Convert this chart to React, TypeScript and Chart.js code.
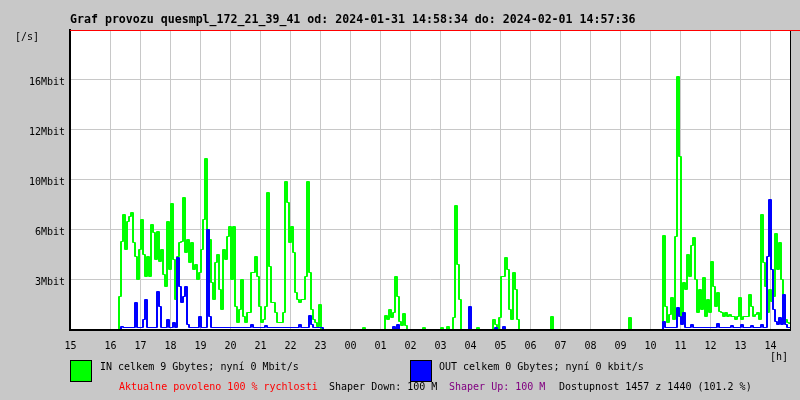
import React, { useEffect, useRef } from "react";
import { Chart, registerables } from "chart.js";

Chart.register(...registerables);

const TITLE = "Graf provozu quesmpl_172_21_39_41 od: 2024-01-31 14:58:34 do: 2024-02-01 14:57:36";

// x axis: hour labels (first one sits on the left edge of the plot)
const hourLabels = ["15", "16", "17", "18", "19", "20", "21", "22", "23", "00", "01", "02", "03", "04", "05", "06", "07", "08", "09", "10", "11", "12", "13", "14"];
// y axis: labels at each grid step (0..6 steps)
const yTickLabels = ["", "3Mbit", "6Mbit", "10Mbit", "12Mbit", "16Mbit", ""];

const START_HOUR = 14 + 40 / 60; // left edge of the plot
const SAMPLE_HOURS = 4 / 60; // one sample every 4 minutes
const PX_HOURS = 1 / 30; // one pixel on the time axis
const HALF_PX_UNITS = 0.01; // half a pixel on the value axis

// IN traffic (in axis grid steps), one row per hour starting at the left edge
const inValues = [
  0, 0, 0, 0, 0, 0, 0, 0, 0, 0, 0, 0, 0, 0, 0,
  0, 0, 0, 0, 0, 0, 0, 0, 0, 0.66, 1.76, 2.3, 1.6, 2.16, 2.26,
  2.34, 1.74, 1.46, 1.0, 1.6, 2.2, 1.5, 1.06, 1.46, 1.06, 2.1, 1.94, 1.4, 1.96, 1.36,
  1.6, 1.1, 0.86, 2.16, 1.2, 2.52, 1.4, 0.6, 1.46, 1.74, 1.76, 2.64, 1.54, 1.8, 1.34,
  1.74, 1.2, 1.3, 1.0, 1.14, 1.6, 2.2, 3.42, 2.0, 1.8, 0.94, 0.6, 1.34, 1.5, 0.8,
  0.4, 1.6, 1.4, 1.86, 2.06, 1.0, 2.06, 0.46, 0.14, 0.4, 1.0, 0.26, 0.14, 0.34, 0.34,
  1.14, 1.14, 1.46, 1.06, 0.46, 0.14, 0.2, 0.46, 2.74, 1.26, 0.54, 0.54, 0.34, 0.14, 0.14,
  0.14, 0.34, 2.96, 2.54, 1.74, 2.06, 1.54, 0.74, 0.6, 0.54, 0.6, 0.6, 1.06, 2.96, 1.14,
  0.4, 0.2, 0.14, 0.06, 0.5, 0, 0, 0, 0, 0, 0, 0, 0, 0, 0,
  0, 0, 0, 0, 0, 0, 0, 0, 0, 0, 0, 0.04, 0, 0, 0,
  0, 0, 0, 0, 0, 0, 0, 0.28, 0.2, 0.4, 0.24, 0.34, 1.06, 0.66, 0.16,
  0.08, 0.32, 0.08, 0, 0, 0, 0, 0, 0, 0, 0, 0.04, 0, 0, 0,
  0, 0, 0, 0, 0, 0.04, 0, 0, 0.06, 0, 0, 0.24, 2.48, 1.3, 0.6,
  0, 0, 0, 0, 0, 0, 0, 0, 0.04, 0, 0, 0, 0, 0, 0,
  0, 0.2, 0.1, 0, 0.24, 1.06, 1.06, 1.44, 1.2, 0.4, 0.2, 1.14, 0.8, 0.2, 0,
  0, 0, 0, 0, 0, 0, 0, 0, 0, 0, 0, 0, 0, 0, 0,
  0.26, 0, 0, 0, 0, 0, 0, 0, 0, 0, 0, 0, 0, 0, 0,
  0, 0, 0, 0, 0, 0, 0, 0, 0, 0, 0, 0, 0, 0, 0,
  0, 0, 0, 0, 0, 0, 0, 0, 0, 0.24, 0, 0, 0, 0, 0,
  0, 0, 0, 0, 0, 0, 0, 0, 0, 0, 0, 1.88, 0.46, 0.14, 0.3,
  0.64, 0.2, 1.86, 5.06, 3.46, 0.2, 0.94, 0.8, 1.5, 1.06, 1.68, 1.84, 1.0, 0.34, 0.8,
  0.4, 1.04, 0.26, 0.6, 0.34, 1.36, 0.86, 0.46, 0.74, 0.36, 0.34, 0.26, 0.34, 0.26, 0.3,
  0.26, 0.26, 0.2, 0.26, 0.64, 0.2, 0.26, 0.26, 0.26, 0.7, 0.46, 0.26, 0.3, 0.34, 0.2,
  2.3, 1.34, 0.86, 0.34, 0.8, 0.56, 0.66, 1.92, 1.2, 1.74, 1.0, 0.46, 0.2, 0.14, 0.12,
];

// OUT traffic (in axis grid steps)
const outValues = [
  0, 0, 0, 0, 0, 0, 0, 0, 0, 0, 0, 0, 0, 0, 0,
  0, 0, 0, 0, 0, 0, 0, 0, 0, 0, 0.06, 0.04, 0.04, 0.04, 0.04,
  0.04, 0.04, 0.54, 0.04, 0.04, 0.04, 0.2, 0.6, 0.04, 0.04, 0.04, 0.04, 0.04, 0.76, 0.46,
  0.04, 0.04, 0.04, 0.2, 0.04, 0.04, 0.14, 0.04, 1.44, 0.86, 0.54, 0.66, 0.86, 0.1, 0.04,
  0.04, 0.04, 0.04, 0.04, 0.26, 0.04, 0.04, 0.04, 2.0, 0.26, 0.04, 0.04, 0.04, 0.04, 0.04,
  0.04, 0.04, 0.04, 0.04, 0.04, 0.04, 0.04, 0.04, 0.04, 0.04, 0.04, 0.04, 0.04, 0.04, 0.04,
  0.1, 0.04, 0.04, 0.04, 0.04, 0.04, 0.04, 0.08, 0.04, 0.04, 0.04, 0.04, 0.04, 0.04, 0.04,
  0.04, 0.04, 0.04, 0.04, 0.04, 0.04, 0.04, 0.04, 0.04, 0.1, 0.04, 0.04, 0.04, 0.04, 0.28,
  0.1, 0.04, 0.04, 0.04, 0.04, 0.04, 0, 0, 0, 0, 0, 0, 0, 0, 0,
  0, 0, 0, 0, 0, 0, 0, 0, 0, 0, 0, 0, 0, 0, 0,
  0, 0, 0, 0, 0, 0, 0, 0, 0, 0, 0, 0.06, 0, 0.1, 0,
  0, 0, 0, 0, 0, 0, 0, 0, 0, 0, 0, 0, 0, 0, 0,
  0, 0, 0, 0, 0, 0, 0, 0, 0, 0, 0, 0, 0, 0, 0,
  0, 0, 0, 0, 0.46, 0, 0, 0, 0, 0, 0, 0, 0, 0, 0,
  0, 0, 0.04, 0, 0, 0, 0.06, 0, 0, 0, 0, 0, 0, 0, 0,
  0, 0, 0, 0, 0, 0, 0, 0, 0, 0, 0, 0, 0, 0, 0,
  0, 0, 0, 0, 0, 0, 0, 0, 0, 0, 0, 0, 0, 0, 0,
  0, 0, 0, 0, 0, 0, 0, 0, 0, 0, 0, 0, 0, 0, 0,
  0, 0, 0, 0, 0, 0, 0, 0, 0, 0, 0, 0, 0, 0, 0,
  0, 0, 0, 0, 0, 0, 0, 0, 0, 0, 0, 0.16, 0.04, 0.04, 0.04,
  0.04, 0.04, 0.04, 0.44, 0.26, 0.1, 0.34, 0.04, 0.04, 0.04, 0.1, 0.04, 0.04, 0.04, 0.04,
  0.04, 0.04, 0.04, 0.04, 0.04, 0.04, 0.04, 0.04, 0.12, 0.04, 0.04, 0.04, 0.04, 0.04, 0.04,
  0.08, 0.04, 0.04, 0.04, 0.04, 0.1, 0.04, 0.04, 0.04, 0.04, 0.08, 0.04, 0.04, 0.04, 0.04,
  0.1, 0.04, 0.04, 1.46, 2.6, 1.2, 0.4, 0.16, 0.1, 0.24, 0.1, 0.7, 0.1, 0.04, 0.04,
];

const IN_TEXT = "IN celkem 9 Gbytes; nyní 0 Mbit/s";
const OUT_TEXT = "OUT celkem 0 Gbytes; nyní 0 kbit/s";
const INFO = [
  { text: "Aktualne povoleno 100 % rychlosti", color: "#ff0000", x: 119 },
  { text: "Shaper Down: 100 M", color: "#000000", x: 329 },
  { text: "Shaper Up: 100 M", color: "#800080", x: 449 },
  { text: "Dostupnost 1457 z 1440 (101.2 %)", color: "#000000", x: 559 },
];

const MONO = "'DejaVu Sans Mono', 'Liberation Mono', monospace";

// shift: extra offset on the time axis (the trace is stroked twice, one pixel apart, like the original 2px-wide steps)
function toPoints(values: number[], shift: number) {
  const pts = values.map((v, i) => ({ x: START_HOUR + i * SAMPLE_HOURS + shift, y: v }));
  pts.push({ x: START_HOUR + values.length * SAMPLE_HOURS + shift, y: values[values.length - 1] });
  return pts;
}

function trace(label: string, values: number[], color: string, shift: number, order: number) {
  return {
    label,
    data: toPoints(values, shift),
    borderColor: color,
    borderWidth: 1,
    pointRadius: 0,
    stepped: "before" as const,
    fill: false,
    order,
  };
}

const decor = {
  id: "decor",
  beforeDraw(chart: any) {
    const { ctx, chartArea: a } = chart;
    ctx.save();
    ctx.fillStyle = "#c8c8c8";
    ctx.fillRect(0, 0, chart.width, chart.height);
    ctx.fillStyle = "#ffffff";
    ctx.fillRect(a.left, a.top, a.right - a.left, a.bottom - a.top);
    ctx.restore();
  },
  afterDraw(chart: any) {
    const { ctx, chartArea: a } = chart;
    ctx.save();
    // frame
    ctx.fillStyle = "#000";
    ctx.fillRect(a.right, a.top, 1, a.bottom - a.top + 1);
    ctx.fillStyle = "#ff0000";
    ctx.fillRect(a.left, a.top, chart.width - a.left, 1);

    // title
    ctx.fillStyle = "#000";
    ctx.font = `bold 11.6px ${MONO}`;
    ctx.textBaseline = "alphabetic";
    ctx.textAlign = "left";
    ctx.fillText(TITLE, 70, 23);

    ctx.font = `10px ${MONO}`;
    ctx.textBaseline = "middle";
    ctx.fillText("[/s]", 15, 37);
    ctx.fillText("[h]", 770, 357);

    // legend
    ctx.fillStyle = "#00ff00";
    ctx.fillRect(70, 360, 22, 22);
    ctx.strokeStyle = "#000";
    ctx.lineWidth = 1;
    ctx.strokeRect(70.5, 360.5, 21, 21);
    ctx.fillStyle = "#0000ff";
    ctx.fillRect(410, 360, 22, 22);
    ctx.strokeRect(410.5, 360.5, 21, 21);

    ctx.fillStyle = "#000";
    ctx.fillText(IN_TEXT, 100, 367);
    ctx.fillText(OUT_TEXT, 439, 367);

    INFO.forEach((it) => {
      ctx.fillStyle = it.color;
      ctx.fillText(it.text, it.x, 387);
    });
    ctx.restore();
  },
};

export default function App() {
  const ref = useRef<HTMLCanvasElement | null>(null);

  useEffect(() => {
    if (!ref.current) return;
    const chart = new Chart(ref.current, {
      type: "line",
      data: {
        datasets: [
          trace("OUT", outValues, "#0000ff", 0, 0),
          trace("OUT", outValues, "#0000ff", PX_HOURS, 0),
          trace("IN", inValues, "#00ff00", 0, 1),
          trace("IN", inValues, "#00ff00", PX_HOURS, 1),
        ],
      },
      options: {
        responsive: false,
        animation: false,
        events: [],
        layout: { padding: { top: 30, right: 10, left: 0, bottom: 0 } },
        plugins: { legend: { display: false }, tooltip: { enabled: false }, title: { display: false } },
        scales: {
          x: {
            type: "linear",
            min: START_HOUR - PX_HOURS / 2,
            max: START_HOUR + 24 - PX_HOURS / 2,
            afterBuildTicks: (axis: any) => {
              axis.ticks = hourLabels.map((_, i) => ({ value: i === 0 ? START_HOUR : 15 + i }));
            },
            afterFit: (s: any) => {
              s.height = 70;
            },
            ticks: {
              autoSkip: false,
              maxRotation: 0,
              minRotation: 0,
              padding: 10,
              color: "#000",
              font: { family: MONO, size: 10 },
              callback: (_v: any, i: number) => hourLabels[i],
            },
            grid: { color: "#c8c8c8", lineWidth: 1, drawTicks: false },
            border: { color: "#000", width: 2, z: 1 },
          },
          y: {
            min: -HALF_PX_UNITS,
            max: 6 - HALF_PX_UNITS,
            afterBuildTicks: (axis: any) => {
              axis.ticks = yTickLabels.slice(0, 6).map((_, i) => ({ value: i }));
            },
            afterFit: (s: any) => {
              s.width = 70;
            },
            ticks: {
              padding: 5,
              labelOffset: 2.5,
              color: "#000",
              font: { family: MONO, size: 10 },
              callback: (_v: any, i: number) => yTickLabels[i],
            },
            grid: { color: "#c8c8c8", lineWidth: 1, drawTicks: false },
            border: { color: "#000", width: 2, z: 1 },
          },
        },
      },
      plugins: [decor],
    });
    return () => chart.destroy();
  }, []);

  return (
    <div style={{ position: "absolute", left: 0, top: 0, width: 800, height: 400, background: "#c8c8c8" }}>
      <canvas ref={ref} width={800} height={400} style={{ display: "block" }} />
    </div>
  );
}
